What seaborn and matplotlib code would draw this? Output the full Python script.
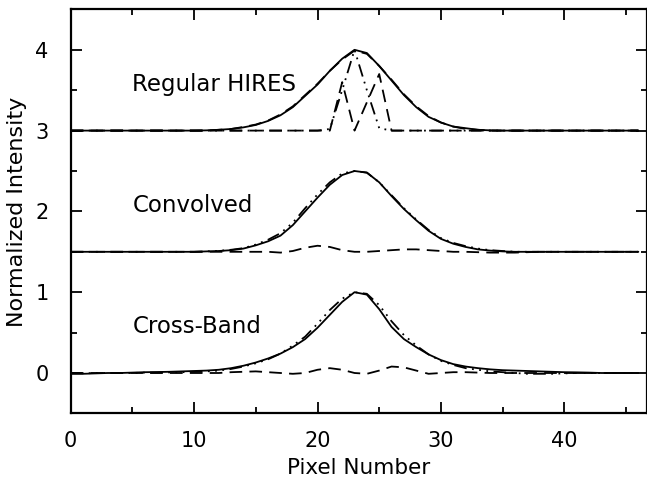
import numpy as np
import pandas as pd
import matplotlib
matplotlib.use("Agg")
import matplotlib.pyplot as plt
from matplotlib.ticker import MultipleLocator
import seaborn as sns

pixel = list(range(47))

# ---- Regular HIRES (offset 3) ----
top_solid = [0]*11 + [0.003, 0.01, 0.02, 0.04, 0.07, 0.12, 0.19, 0.29, 0.43, 0.57, 0.74, 0.89, 1.0,
                      0.96, 0.80, 0.62, 0.44, 0.29, 0.17, 0.10, 0.05, 0.03, 0.01, 0.003] + [0]*12
top_dash_broad = [0]*11 + [0.0, 0.01, 0.02, 0.045, 0.075, 0.125, 0.2, 0.3, 0.44, 0.58, 0.74, 0.88, 0.99,
                           0.95, 0.80, 0.63, 0.45, 0.30, 0.18, 0.10, 0.05, 0.02, 0.01, 0.0] + [0]*12
top_dash_narrow = [0]*21 + [0.0, 0.6, 0.0, 0.35, 0.7, 0.0] + [0]*20
top_ddd = [0]*21 + [0.02, 0.5, 1.0, 0.5, 0.03, 0.0] + [0]*20

# ---- Convolved (offset 1.5) ----
mid_solid = [0]*11 + [0.005, 0.01, 0.02, 0.04, 0.08, 0.13, 0.20, 0.33, 0.50, 0.67, 0.83, 0.95, 1.0,
                      0.98, 0.86, 0.69, 0.53, 0.39, 0.26, 0.16, 0.10, 0.06, 0.03, 0.015, 0.005] + [0]*11
mid_ddd = [0]*11 + [0.005, 0.012, 0.025, 0.045, 0.09, 0.15, 0.23, 0.36, 0.54, 0.71, 0.86, 0.97, 1.0,
                    0.98, 0.86, 0.70, 0.54, 0.40, 0.27, 0.17, 0.11, 0.07, 0.04, 0.02, 0.01] + [0]*11
mid_dash = [0]*16 + [0.0, -0.01, 0.01, 0.05, 0.075, 0.06, 0.02, 0.0, 0.0, 0.01, 0.02, 0.03, 0.03, 0.02,
                     0.01, 0.0, 0.0, -0.005, -0.01, -0.01, -0.01, -0.005, 0.0] + [0]*8

# ---- Cross-Band (offset 0) ----
bot_solid = [-0.01, -0.01, -0.005, 0.0, 0.0, 0.005, 0.01, 0.012, 0.015, 0.02, 0.025, 0.03, 0.04, 0.06,
             0.09, 0.13, 0.18, 0.24, 0.32, 0.42, 0.56, 0.72, 0.88, 1.0, 0.97, 0.79, 0.57, 0.42, 0.32,
             0.23, 0.16, 0.11, 0.08, 0.06, 0.045, 0.035, 0.03, 0.025, 0.02, 0.015, 0.01, 0.008, 0.005,
             0.0, 0.0, 0.0, 0.0]
bot_ddd = [-0.005, -0.005, 0.0, 0.0, 0.0, 0.0, 0.005, 0.005, 0.008, 0.01, 0.015, 0.02, 0.03, 0.05,
           0.08, 0.12, 0.17, 0.24, 0.34, 0.45, 0.61, 0.78, 0.92, 1.0, 0.98, 0.84, 0.64, 0.47, 0.34,
           0.23, 0.15, 0.10, 0.06, 0.04, 0.02, 0.01, 0.0, -0.01, -0.01, -0.01, -0.005, 0.0, 0.0,
           0.0, 0.0, 0.0, 0.0]
bot_dash = [0]*13 + [0.01, 0.015, 0.02, 0.01, 0.0, -0.01, 0.0, 0.04, 0.06, 0.04, 0.0, -0.01, 0.03,
                     0.08, 0.07, 0.03, -0.01, 0.0, 0.01, 0.01, 0.005] + [0]*13

offsets = [3.0, 1.5, 0.0]
group_labels = ["Regular HIRES", "Convolved", "Cross-Band"]
x_ticks = [0, 10, 20, 30, 40]
y_ticks = [0, 1, 2, 3, 4]

sns.set_theme(style="ticks")
plt.rcParams['font.family'] = ['DejaVu Sans']

fig = plt.figure(figsize=(6.47, 4.87), dpi=100)
ax = fig.add_axes([70.7/647, 73.6/487, (647-70.7)/647, (413.4-9.4)/487])

DASH = (0, (7, 4))
DDD = (0, (7, 3, 1, 3, 1, 3, 1, 3))
LW = 1.3

groups = [
    (offsets[0], [(top_solid, '-'), (top_dash_broad, DASH), (top_dash_narrow, DASH), (top_ddd, DDD)]),
    (offsets[1], [(mid_solid, '-'), (mid_ddd, DDD), (mid_dash, DASH)]),
    (offsets[2], [(bot_solid, '-'), (bot_ddd, DDD), (bot_dash, DASH)]),
]
for off, series in groups:
    for vals, ls in series:
        df = pd.DataFrame({"pixel": pixel, "val": np.array(vals) + off})
        sns.lineplot(data=df, x="pixel", y="val", ax=ax, color="black",
                     linewidth=LW, linestyle=ls, estimator=None, sort=False)

for off, lab in zip(offsets, group_labels):
    ax.text(5.0, off + 0.57, lab, fontsize=16.5, va="center", ha="left", color="black")

ax.set_xlim(0, 46.7)
ax.set_ylim(-0.5, 4.5)
ax.set_xticks(x_ticks)
ax.set_yticks(y_ticks)
ax.xaxis.set_minor_locator(MultipleLocator(5))
ax.yaxis.set_minor_locator(MultipleLocator(0.5))
ax.tick_params(which='both', direction='in', top=True, right=True, width=1.3, color='black',
               labelsize=15, labelcolor='black')
ax.tick_params(which='major', length=8)
ax.tick_params(which='minor', length=4)
ax.tick_params(axis='x', which='major', pad=13)
ax.tick_params(axis='y', which='major', pad=16)
for s in ax.spines.values():
    s.set_linewidth(1.6)
    s.set_color('black')
ax.set_xlabel("Pixel Number", fontsize=15.5, color='black', labelpad=5)
ax.set_ylabel("Normalized Intensity", fontsize=16, color='black', labelpad=6)

fig.savefig("out.png", dpi=100)
